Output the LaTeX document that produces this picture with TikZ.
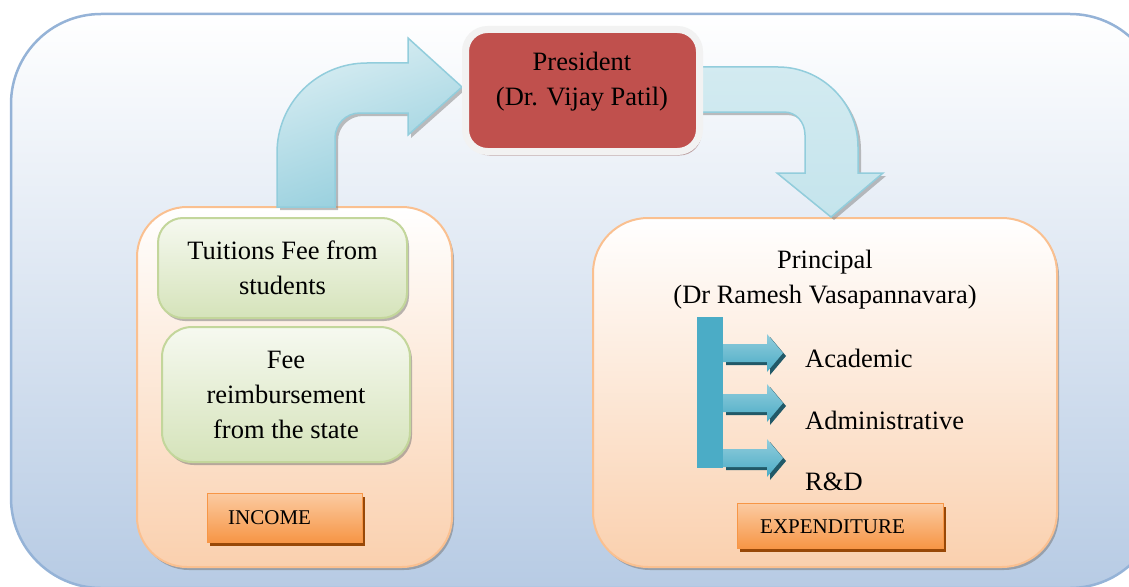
\documentclass[tikz,border=0pt]{standalone}
\usepackage{fontspec}
\setmainfont{Liberation Serif}
\usetikzlibrary{shadows}
\definecolor{outerline}{HTML}{95B3D7}
\definecolor{outerbot}{HTML}{B7CBE4}
\definecolor{peachline}{HTML}{FAC090}
\definecolor{peachbot}{HTML}{FAD0AE}
\definecolor{greenline}{HTML}{C3D69B}
\definecolor{greentop}{HTML}{F6F9F0}
\definecolor{greenbot}{HTML}{D5E3BA}
\definecolor{presred}{HTML}{C0504D}
\definecolor{presrim}{HTML}{F2F2F2}
\definecolor{orgtop}{HTML}{FBCBA2}
\definecolor{orgbot}{HTML}{F79646}
\definecolor{orgshadow}{HTML}{984807}
\definecolor{aqua}{HTML}{4BACC6}
\definecolor{aqualight}{HTML}{92CDDC}
\definecolor{aquapale}{HTML}{DAEEF3}
\definecolor{aquadark}{HTML}{215968}
\tikzset{
  mainfont/.style={font=\fontsize{26.5}{35}\selectfont},
  smallfont/.style={font=\fontsize{21}{25}\selectfont},
  peachbox/.style={draw=peachline, line width=2, top color=white, bottom color=peachbot, inner sep=0,
    drop shadow={shadow xshift=2pt, shadow yshift=-3pt, fill=black!55, opacity=.5}},
  greenbox/.style={draw=greenline, line width=2, top color=greentop, bottom color=greenbot, inner sep=0,
    rounded corners=25, align=center, mainfont,
    drop shadow={shadow xshift=2pt, shadow yshift=-3pt, fill=black!55, opacity=.5}},
  labelbox/.style={draw=orgbot, line width=1, top color=orgtop, bottom color=orgbot, inner sep=0,
    drop shadow={shadow xshift=3pt, shadow yshift=-4pt, fill=orgshadow, opacity=1}},
  bigarrow/.style={draw=aqualight, line width=1.5,
    drop shadow={shadow xshift=3pt, shadow yshift=-3pt, fill=black!50, opacity=.5}},
  smallarrow/.style={top color=aqualight, bottom color=aqua, draw=none,
    drop shadow={shadow xshift=3pt, shadow yshift=-3pt, fill=aquadark, opacity=1}},
}
\begin{document}
\begin{tikzpicture}[x=1pt, y=-1pt]
\useasboundingbox (0,0) rectangle (1129,586);
\clip (0,0) rectangle (1129,586);

% outer panel
\node[draw=outerline, line width=2.5, top color=white, bottom color=outerbot, rounded corners=90,
  minimum width=1149, minimum height=574, inner sep=0] (panel) at (585.5,301) {};

% income box
\node[peachbox, rounded corners=50, minimum width=315, minimum height=360] (income) at (294.5,387) {};
\node[greenbox, minimum width=249, minimum height=100] (tuition) at (282.5,268) {Tuitions Fee from\\students};
\node[greenbox, rounded corners=30, minimum width=248, minimum height=135] (reimb) at (286,394.5) {Fee\\reimbursement\\from the state};
\node[labelbox, minimum width=155, minimum height=49] (incomelbl) at (284.5,517.5) {};
\node[smallfont, anchor=west, inner sep=0] (incometxt) at (228,518) {INCOME};

% principal box
\node[peachbox, rounded corners=55, minimum width=464, minimum height=349] (principal) at (825,392.5) {};
\node[mainfont, align=center, inner sep=0] (principaltxt) at (825,280) {Principal\\(Dr Ramesh Vasapannavara)};
\fill[aqua] (697,317) rectangle (723,468);
\coordinate (bar) at (710,392);
\foreach \c/\n in {353/a1,403/a2,458/a3}{
  \path[smallarrow] (723,\c-9) -- (767,\c-9) -- (767,\c-19) -- (783,\c) -- (767,\c+19) -- (767,\c+9) -- (723,\c+9) -- cycle;
  \coordinate (\n) at (783,\c);
}
\node[mainfont, anchor=west, inner sep=0] (acad) at (805,358) {Academic};
\node[mainfont, anchor=west, inner sep=0] (admin) at (805,420) {Administrative};
\node[mainfont, anchor=west, inner sep=0] (rnd) at (805,482) {R\&D};
\node[labelbox, minimum width=206, minimum height=45] (explbl) at (840,525.5) {};
\node[smallfont, anchor=west, inner sep=0] (exptxt) at (760,527) {EXPENDITURE};

% bent arrow income -> president
\path[bigarrow, top color=aquapale, bottom color=aqualight, shading angle=20]
  (277,207) -- (277,153) .. controls (277,103) and (317,63) .. (367,63)
  -- (408,63) -- (408,38) -- (462,87) -- (408,135) -- (408,113) -- (360,113)
  .. controls (346,113) and (335,124) .. (335,138) -- (335,207) -- cycle;

% bent arrow president -> principal
\path[bigarrow, top color=aquapale!90!aqualight, bottom color=aquapale!70!aqualight]
  (690,67) -- (778,67) .. controls (822,67) and (858,103) .. (858,147)
  -- (858,173) -- (883,173) -- (831,217) -- (777,173) -- (805,173) -- (805,135)
  .. controls (805,122) and (796,112) .. (784,112) -- (690,112) -- cycle;

% president box
\node[draw=presrim, line width=7, fill=presred, rounded corners=22, minimum width=234, minimum height=122,
  inner sep=0, drop shadow={shadow xshift=2pt, shadow yshift=-4pt, fill=presred!60!black!60, opacity=.7}]
  (president) at (582.5,90.5) {};
\node[mainfont, align=center, inner sep=0] (presidenttxt) at (582,82) {President\\(Dr. Vijay Patil)};
\end{tikzpicture}
\end{document}
